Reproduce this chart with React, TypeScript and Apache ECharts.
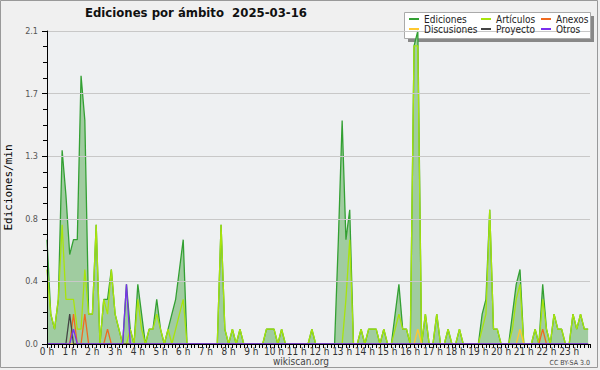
import React, { useEffect, useRef } from "react";
import * as echarts from "echarts";

// 10-minute bins, 00:00 .. 23:50 (one row per hour)
const ediciones = [
  0.7, 0.2, 0.1, 0.3, 1.3, 1.0,
  0.6, 0.7, 0.7, 1.8, 1.5, 0.2,
  0.2, 0.8, 0.0, 0.3, 0.3, 0.5,
  0.2, 0.1, 0.0, 0.4, 0.1, 0.0,
  0.4, 0.2, 0.0, 0.1, 0.1, 0.3,
  0.1, 0.0, 0.1, 0.2, 0.3, 0.5,
  0.7, 0.0, 0.0, 0.0, 0.0, 0.0,
  0.0, 0.0, 0.0, 0.0, 0.8, 0.1,
  0.0, 0.1, 0.0, 0.1, 0.0, 0.0,
  0.0, 0.0, 0.0, 0.0, 0.1, 0.1,
  0.1, 0.0, 0.1, 0.0, 0.0, 0.0,
  0.0, 0.0, 0.0, 0.0, 0.1, 0.0,
  0.0, 0.0, 0.0, 0.0, 0.0, 0.7,
  1.5, 0.7, 0.9, 0.0, 0.0, 0.1,
  0.0, 0.1, 0.1, 0.1, 0.0, 0.1,
  0.0, 0.0, 0.2, 0.4, 0.1, 0.1,
  0.0, 2.0, 2.1, 0.0, 0.2, 0.0,
  0.0, 0.2, 0.0, 0.0, 0.1, 0.0,
  0.0, 0.1, 0.0, 0.0, 0.0, 0.0,
  0.0, 0.2, 0.3, 0.9, 0.1, 0.1,
  0.0, 0.0, 0.0, 0.2, 0.4, 0.5,
  0.0, 0.0, 0.0, 0.1, 0.0, 0.4,
  0.1, 0.0, 0.2, 0.1, 0.1, 0.0,
  0.0, 0.2, 0.1, 0.2, 0.1, 0.1,
];

const articulos = [
  0.5, 0.2, 0.1, 0.3, 0.8, 0.3,
  0.3, 0.3, 0.1, 0.1, 0.5, 0.2,
  0.2, 0.8, 0.0, 0.3, 0.2, 0.5,
  0.2, 0.1, 0.0, 0.0, 0.1, 0.0,
  0.3, 0.1, 0.0, 0.1, 0.1, 0.2,
  0.1, 0.0, 0.1, 0.0, 0.1, 0.2,
  0.3, 0.0, 0.0, 0.0, 0.0, 0.0,
  0.0, 0.0, 0.0, 0.0, 0.8, 0.1,
  0.0, 0.1, 0.0, 0.1, 0.0, 0.0,
  0.0, 0.0, 0.0, 0.0, 0.1, 0.1,
  0.1, 0.0, 0.1, 0.0, 0.0, 0.0,
  0.0, 0.0, 0.0, 0.0, 0.1, 0.0,
  0.0, 0.0, 0.0, 0.0, 0.0, 0.0,
  0.0, 0.3, 0.7, 0.0, 0.0, 0.1,
  0.0, 0.1, 0.1, 0.1, 0.0, 0.1,
  0.0, 0.0, 0.1, 0.2, 0.1, 0.1,
  0.0, 2.0, 2.0, 0.0, 0.2, 0.0,
  0.0, 0.2, 0.0, 0.0, 0.1, 0.0,
  0.0, 0.1, 0.0, 0.0, 0.0, 0.0,
  0.0, 0.1, 0.2, 0.9, 0.1, 0.1,
  0.0, 0.0, 0.0, 0.1, 0.3, 0.4,
  0.0, 0.0, 0.0, 0.1, 0.0, 0.3,
  0.1, 0.0, 0.2, 0.1, 0.1, 0.0,
  0.0, 0.2, 0.1, 0.2, 0.1, 0.1,
];

const anexos = [
  0, 0, 0, 0, 0, 0,
  0, 0.2, 0, 0, 0.2, 0,
  0, 0, 0, 0, 0.1, 0,
  0, 0, 0, 0, 0, 0,
  0, 0, 0, 0, 0, 0,
  0, 0, 0, 0, 0, 0,
  0, 0, 0, 0, 0, 0,
  0, 0, 0, 0, 0, 0,
  0, 0, 0, 0, 0, 0,
  0, 0, 0, 0, 0, 0,
  0, 0, 0, 0, 0, 0,
  0, 0, 0, 0, 0, 0,
  0, 0, 0, 0, 0, 0,
  0, 0, 0, 0, 0, 0,
  0, 0, 0, 0, 0, 0,
  0, 0, 0, 0, 0, 0,
  0, 0, 0, 0, 0, 0,
  0, 0, 0, 0, 0, 0,
  0, 0, 0, 0, 0, 0,
  0, 0, 0, 0, 0, 0,
  0, 0, 0, 0, 0, 0,
  0, 0, 0, 0, 0, 0.1,
  0, 0, 0, 0, 0, 0,
  0, 0, 0, 0, 0, 0,
];

const discusiones = [
  0, 0, 0, 0, 0, 0,
  0, 0, 0, 0, 0, 0,
  0, 0, 0, 0, 0, 0,
  0, 0, 0, 0, 0, 0,
  0, 0, 0, 0, 0, 0,
  0, 0, 0, 0, 0, 0,
  0, 0, 0, 0, 0, 0,
  0, 0, 0, 0, 0, 0,
  0, 0, 0, 0, 0, 0,
  0, 0, 0, 0, 0, 0,
  0, 0, 0, 0, 0, 0,
  0, 0, 0, 0, 0, 0,
  0, 0, 0, 0, 0, 0,
  0, 0, 0, 0, 0, 0,
  0, 0, 0, 0, 0, 0,
  0, 0, 0, 0, 0, 0,
  0, 0, 0.1, 0, 0, 0,
  0, 0, 0, 0, 0, 0,
  0, 0, 0, 0, 0, 0,
  0, 0, 0, 0, 0, 0,
  0, 0, 0, 0, 0, 0.1,
  0, 0, 0, 0, 0, 0,
  0, 0, 0, 0, 0, 0,
  0, 0, 0, 0, 0, 0,
];

const proyecto = [
  0, 0, 0, 0, 0, 0,
  0.2, 0, 0, 0, 0, 0,
  0, 0, 0, 0, 0, 0,
  0, 0, 0, 0, 0, 0,
  0, 0, 0, 0, 0, 0,
  0, 0, 0, 0, 0, 0,
  0, 0, 0, 0, 0, 0,
  0, 0, 0, 0, 0, 0,
  0, 0, 0, 0, 0, 0,
  0, 0, 0, 0, 0, 0,
  0, 0, 0, 0, 0, 0,
  0, 0, 0, 0, 0, 0,
  0, 0, 0, 0, 0, 0,
  0, 0, 0, 0, 0, 0,
  0, 0, 0, 0, 0, 0,
  0, 0, 0, 0, 0, 0,
  0, 0, 0, 0, 0, 0,
  0, 0, 0, 0, 0, 0,
  0, 0, 0, 0, 0, 0,
  0, 0, 0, 0, 0, 0,
  0, 0, 0, 0, 0, 0,
  0, 0, 0, 0, 0, 0,
  0, 0, 0, 0, 0, 0,
  0, 0, 0, 0, 0, 0,
];

const otros = [
  0, 0, 0, 0, 0, 0,
  0, 0.1, 0, 0, 0, 0,
  0, 0, 0, 0, 0, 0,
  0, 0, 0, 0.4, 0, 0,
  0, 0, 0, 0, 0, 0,
  0, 0, 0, 0, 0, 0,
  0, 0, 0, 0, 0, 0,
  0, 0, 0, 0, 0, 0,
  0, 0, 0, 0, 0, 0,
  0, 0, 0, 0, 0, 0,
  0, 0, 0, 0, 0, 0,
  0, 0, 0, 0, 0, 0,
  0, 0, 0, 0, 0, 0,
  0, 0, 0, 0, 0, 0,
  0, 0, 0, 0, 0, 0,
  0, 0, 0, 0, 0, 0,
  0, 0, 0, 0, 0, 0,
  0, 0, 0, 0, 0, 0,
  0, 0, 0, 0, 0, 0,
  0, 0, 0, 0, 0, 0,
  0, 0, 0, 0, 0, 0,
  0, 0, 0, 0, 0, 0,
  0, 0, 0, 0, 0, 0,
  0, 0, 0, 0, 0, 0,
];

const yTicks = [0, 0.42, 0.84, 1.26, 1.68, 2.1];
const titleText = "Ediciones por ámbito  2025-03-16";

const FONT = "'DejaVu Sans Condensed', 'DejaVu Sans', sans-serif";

const COLORS = {
  ediciones: "#33a033",
  edFill: "#a0cca0",
  articulos: "#a8e40c",
  anexos: "#f06a20",
  discusiones: "#ffc830",
  proyecto: "#444444",
  otros: "#7a30ee",
};

const toXY = (arr: number[]) => arr.map((v, i) => [i, v]);

export default function App() {
  const ref = useRef<HTMLDivElement>(null);
  useEffect(() => {
    if (!ref.current) return;
    const chart = echarts.init(ref.current, undefined, { renderer: "svg" });
    const line = (name: string, data: number[], color: string, extra: any = {}) => ({
      name,
      type: "line",
      data: toXY(data),
      showSymbol: false,
      symbol: "none",
      lineStyle: { color, width: 1.3 },
      itemStyle: { color },
      emphasis: { disabled: true },
      ...extra,
    });
    const legendBase = {
      orient: "vertical",
      padding: 0,
      itemGap: 0,
      itemWidth: 10,
      itemHeight: 2,
      icon: "rect",
      selectedMode: false,
      textStyle: { fontSize: 10, lineHeight: 10, color: "#222", fontFamily: FONT },
      z: 10,
    };
    chart.setOption({
      animation: false,
      backgroundColor: "#f0f0f0",
      textStyle: { fontFamily: FONT },
      title: {
        text: titleText,
        left: 85,
        top: 6,
        padding: 0,
        textStyle: { fontSize: 13, fontWeight: "bold", color: "#111", fontFamily: FONT },
      },
      legend: [
        { ...legendBase, left: 409, top: 14, data: ["Ediciones", "Discusiones"] },
        { ...legendBase, left: 481, top: 14, data: ["Artículos", "Proyecto"] },
        { ...legendBase, left: 541, top: 14, data: ["Anexos", "Otros"] },
      ],
      grid: {
        left: 47,
        right: 10,
        top: 31,
        bottom: 26,
        containLabel: false,
        outerBoundsMode: "none",
        show: true,
        backgroundColor: "#eef0f2",
        borderWidth: 0,
      },
      xAxis: {
        type: "value",
        min: 0,
        max: 143.5,
        interval: 6,
        z: 10,
        axisLine: { lineStyle: { color: "#000", width: 1 } },
        axisTick: { length: 4, lineStyle: { color: "#000" } },
        minorTick: { show: true, splitNumber: 6, length: 4, lineStyle: { color: "#000" } },
        splitLine: { show: false },
        axisLabel: {
          fontSize: 10,
          color: "#333",
          margin: 2,
          showMaxLabel: false,
          alignMinLabel: "center",
          fontFamily: FONT,
          formatter: (v: number) => (v % 6 === 0 ? `${v / 6} h` : ""),
        },
      },
      yAxis: {
        type: "value",
        min: yTicks[0],
        max: yTicks[yTicks.length - 1],
        interval: yTicks[1],
        z: 10,
        name: "Ediciones/min",
        nameLocation: "middle",
        nameGap: 31,
        nameRotate: 90,
        nameTextStyle: { fontSize: 11, color: "#000", fontFamily: "'DejaVu Sans Mono', monospace" },
        axisLine: { show: true, lineStyle: { color: "#000" } },
        axisTick: { show: true, length: 5, lineStyle: { color: "#000" } },
        minorTick: { show: true, splitNumber: 4, length: 4, lineStyle: { color: "#000" } },
        splitLine: { lineStyle: { color: "#c8c8c8" } },
        axisLabel: {
          fontSize: 9,
          color: "#555",
          margin: 9,
          fontFamily: FONT,
          formatter: (v: number) => v.toFixed(1),
        },
      },
      graphic: [
        { type: "rect", z: 3, shape: { x: 408, y: 16, width: 186, height: 26 }, style: { fill: "#888" } },
        { type: "rect", z: 3, shape: { x: 404.5, y: 12.5, width: 186, height: 26 }, style: { fill: "#fff", stroke: "#aaa", lineWidth: 1 } },
        { type: "text", x: 301, y: 361, style: { text: "wikiscan.org", fontSize: 10, fontFamily: FONT, fill: "#444", align: "center", verticalAlign: "middle" } },
        { type: "text", x: 590, y: 363, style: { text: "CC BY-SA 3.0", fontSize: 7, fontFamily: FONT, fill: "#444", align: "right", verticalAlign: "middle" } },
        { type: "rect", z: 20, shape: { x: 0.5, y: 0.5, width: 597, height: 367 }, style: { fill: "none", stroke: "#999", lineWidth: 1 } },
      ],
      series: [
        line("Ediciones", ediciones, COLORS.ediciones, { areaStyle: { color: COLORS.edFill, opacity: 1 } }),
        line("Artículos", articulos, COLORS.articulos),
        line("Anexos", anexos, COLORS.anexos),
        line("Discusiones", discusiones, COLORS.discusiones),
        line("Proyecto", proyecto, COLORS.proyecto),
        line("Otros", otros, COLORS.otros),
      ],
    });
    return () => chart.dispose();
  }, []);
  return (
    <div
      ref={ref}
      style={{ position: "fixed", left: 0, top: 0, width: 600, height: 370 }}
    />
  );
}
